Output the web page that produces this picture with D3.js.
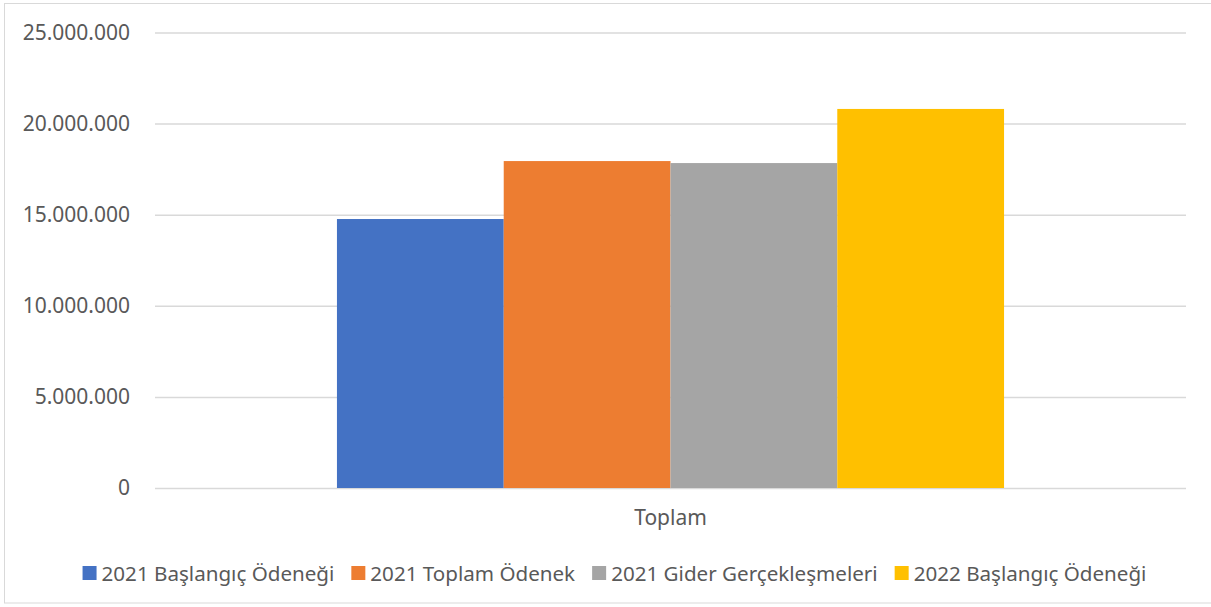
<!DOCTYPE html>
<html><head><meta charset="utf-8">
<script src="https://cdn.jsdelivr.net/npm/d3@7"></script>
<style>html,body{margin:0;padding:0;background:#fff;}svg{display:block;font-family:"Noto Sans","Open Sans",sans-serif;}</style>
</head><body>
<svg id="c" width="1211" height="607"></svg>
<script>
const categories = ["Toplam"];
const seriesNames = ["2021 Başlangıç Ödeneği","2021 Toplam Ödenek","2021 Gider Gerçekleşmeleri","2022 Başlangıç Ödeneği"];
const seriesValues = [14760000, 17940000, 17830000, 20800000];
const seriesColors = ["#4472C4","#ED7D31","#A5A5A5","#FFC000"];
const yTicks = [0,5000000,10000000,15000000,20000000,25000000];

const svg = d3.select("#c");
const W=1211,H=607;
svg.append("rect").attr("x",4.5).attr("y",3.5).attr("width",W+10).attr("height",H-7.5)
  .attr("fill","#fff").attr("stroke","#d9d9d9").attr("stroke-width",1);

const m={l:155,r:1186,t:32.4,b:488};
const y=d3.scaleLinear().domain([0,25000000]).range([m.b,m.t]);
const x0=d3.scaleBand().domain(categories).range([m.l,m.r]).padding(0.2143);
const x1=d3.scaleBand().domain(seriesNames).range([0,x0.bandwidth()]).padding(0);
const fmt=v=>d3.format(",")(v).replace(/,/g,".");

const ya=svg.append("g").attr("transform",`translate(${m.l},0)`)
  .call(d3.axisLeft(y).tickValues(yTicks).tickSize(-(m.r-m.l)).tickPadding(25).tickFormat(fmt));
ya.select(".domain").remove();
ya.selectAll(".tick line").attr("stroke","#d9d9d9").attr("stroke-width",1.5);
ya.selectAll(".tick text").attr("fill","#595959").attr("font-size",21).attr("font-family","Noto Sans");

const g=svg.append("g");
categories.forEach(cat=>{
  g.selectAll("rect.bar").data(seriesNames.map((s,i)=>({s,v:seriesValues[i],c:seriesColors[i]})))
   .enter().append("rect").attr("class","bar")
   .attr("x",d=>x0(cat)+x1(d.s)).attr("width",x1.bandwidth())
   .attr("y",d=>y(d.v)).attr("height",d=>y(0)-y(d.v)).attr("fill",d=>d.c);
});

const xa=svg.append("g").attr("transform",`translate(0,${m.b})`)
  .call(d3.axisBottom(x0).tickSize(0).tickPadding(22));
xa.select(".domain").remove();
xa.selectAll(".tick text").attr("fill","#595959").attr("font-size",21).attr("font-family","Noto Sans");

// legend
const lg=svg.append("g");
const items=lg.selectAll("g").data(seriesNames).enter().append("g");
items.append("rect").attr("width",14).attr("height",14).attr("y",-15).attr("fill",(d,i)=>seriesColors[i]);
items.append("text").attr("x",19).attr("fill","#595959").attr("font-size",20.6).text(d=>d);
let xs=0;const pos=[];
items.each(function(){const w=this.getBBox().width;pos.push(xs);xs+=w+17;});
xs-=17;
const start=614.5-xs/2;
items.attr("transform",(d,i)=>`translate(${start+pos[i]},581)`);
</script>
</body></html>
